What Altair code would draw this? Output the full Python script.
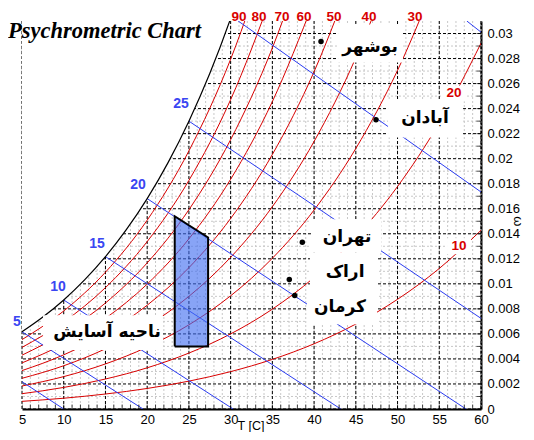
import altair as alt
import pandas as pd

# ---------------- axes / grid values ----------------
X_DOMAIN = [5, 60]
W_DOMAIN = [0, 0.031]
X_MAJOR = [5, 10, 15, 20, 25, 30, 35, 40, 45, 50, 55, 60]
X_MINOR = [5, 6, 7, 8, 9, 10, 11, 12, 13, 14, 15, 16, 17, 18, 19, 20, 21, 22, 23, 24, 25, 26, 27, 28, 29, 30,
           31, 32, 33, 34, 35, 36, 37, 38, 39, 40, 41, 42, 43, 44, 45, 46, 47, 48, 49, 50, 51, 52, 53, 54, 55,
           56, 57, 58, 59, 60]
W_MAJOR = [0, 0.002, 0.004, 0.006, 0.008, 0.01, 0.012, 0.014, 0.016, 0.018, 0.02, 0.022, 0.024, 0.026, 0.028, 0.03]
W_MINOR = [0.001, 0.003, 0.005, 0.007, 0.009, 0.011, 0.013, 0.015, 0.017, 0.019, 0.021, 0.023, 0.025, 0.027, 0.029]

# ---------------- relative humidity curves (omega vs T) ----------------
T_RH = [5, 10, 15, 20, 25, 30, 35, 40, 45, 50, 55, 60]
RH10 = [0.000611, 0.000861, 0.001196, 0.001641, 0.002226, 0.002986, 0.003963, 0.005210, 0.006787, 0.008764, 0.011228, 0.014277]
RH20 = [0.001223, 0.001723, 0.002396, 0.003291, 0.004468, 0.006000, 0.007978, 0.010508, 0.013723, 0.017778, 0.022869, 0.029224]
RH30 = [0.001837, 0.002589, 0.003601, 0.004949, 0.006726, 0.009044, 0.012044, 0.015897, 0.020814, 0.027055, 0.034945]
RH40 = [0.002452, 0.003456, 0.004811, 0.006617, 0.009000, 0.012117, 0.016163, 0.021378, 0.028065, 0.036603]
RH50 = [0.003068, 0.004327, 0.006025, 0.008293, 0.011291, 0.015221, 0.020336, 0.026954, 0.035481]
RH60 = [0.003685, 0.005199, 0.007244, 0.009978, 0.013598, 0.018355, 0.024563, 0.032628]
RH70 = [0.004303, 0.006074, 0.008468, 0.011672, 0.015922, 0.021520, 0.028847, 0.038401]
RH80 = [0.004923, 0.006951, 0.009697, 0.013375, 0.018264, 0.024716, 0.033188]
RH90 = [0.005544, 0.007831, 0.010930, 0.015088, 0.020623, 0.027945, 0.037588]

T_SAT = [5, 7.5, 10, 12.5, 15, 17.5, 20, 22.5, 25, 27.5, 30, 32.5]
W_SAT = [0.006166, 0.007345, 0.008714, 0.010311, 0.012168, 0.014327, 0.016810, 0.019685, 0.022999, 0.026798, 0.031206, 0.036244]

# ---------------- wet-bulb lines (start / end points) ----------------
WB_NAMES = ["0", "5", "10", "15", "20", "25", "30", "35"]
WB_T1 = [5, 5, 10, 15, 20, 25, 30.9, 58.3]
WB_W1 = [0.00218, 0.00617, 0.00871, 0.01217, 0.01681, 0.02300, 0.031, 0.031]
WB_T2 = [10.0, 19.5, 30.3, 43.2, 58.2, 60, 60, 60]
WB_W2 = [0, 0, 0, 0, 0, 0.00724, 0.01734, 0.03011]

# ---------------- labels ----------------
RH_LABELS = ["90", "80", "70", "60", "50", "40", "30", "20", "10"]
RH_LAB_T = [31.0, 33.4, 36.16, 38.79, 42.39, 46.58, 52.09, 56.77, 57.37]
RH_LAB_W = [0.03128, 0.03128, 0.03128, 0.03128, 0.03128, 0.03128, 0.03128, 0.02521, 0.01301]

WB_LABELS = ["25", "20", "15", "10", "5"]
WB_LAB_T = [24.05, 18.90, 13.99, 9.31, 4.40]
WB_LAB_W = [0.02434, 0.01787, 0.01317, 0.00973, 0.00694]

CITY_NAMES = ["بوشهر", "آبادان", "تهران", "اراک", "کرمان"]
CITY_T = [40.83, 47.42, 38.59, 37.03, 37.68]
CITY_W = [0.02936, 0.02311, 0.01332, 0.01035, 0.00907]

TEXTS = ["بوشهر", "آبادان", "تهران", "اراک", "کرمان", "ناحیه آسایش"]
TEXT_T = [46.70, 53.29, 43.95, 43.71, 43.11, 15.19]
TEXT_W = [0.02891, 0.02322, 0.01372, 0.01093, 0.00814, 0.00614]

BOX_T1 = [42.87, 48.86, 39.63, 39.51, 39.15, 7.52, 55.33, 55.93]
BOX_T2 = [50.66, 57.85, 48.02, 47.66, 47.54, 21.90, 58.21, 58.80]
BOX_W1 = [0.02769, 0.02170, 0.01253, 0.00950, 0.00678, 0.00471, 0.02458, 0.01237]
BOX_W2 = [0.03072, 0.02466, 0.01516, 0.01253, 0.00965, 0.00750, 0.02585, 0.01364]

COMFORT_T = [23.3, 27.3]
COMFORT_TOP = [0.0154, 0.0137]
COMFORT_BOTTOM = [0.005, 0.005]

TITLE = "Psychrometric Chart"
TITLE_T = [3.32]
TITLE_W = [0.03024]

AXIS_TITLES = ["T [C]", "ω"]
AXIS_TITLE_T = [32.44, 64.43]
AXIS_TITLE_W = [-0.001356, 0.0150]
AXIS_TITLE_ANGLE = [0, 90]
AXIS_TITLE_SIZE = [12.5, 13]

# ---------------- frames ----------------
rh_df = pd.concat([
    pd.DataFrame({"T": T_RH[:len(v)], "w": v, "id": n})
    for n, v in [("10", RH10), ("20", RH20), ("30", RH30), ("40", RH40), ("50", RH50),
                 ("60", RH60), ("70", RH70), ("80", RH80), ("90", RH90)]
])
sat_df = pd.DataFrame({"T": T_SAT, "w": W_SAT, "w2": W_DOMAIN[1]})
wb_df = pd.concat([
    pd.DataFrame({"T": [WB_T1[i], WB_T2[i]], "w": [WB_W1[i], WB_W2[i]], "id": WB_NAMES[i]})
    for i in range(len(WB_NAMES))
])
vgrid_minor = pd.DataFrame({"T": X_MINOR})
vgrid_major = pd.DataFrame({"T": X_MAJOR})
hgrid_minor = pd.DataFrame({"w": W_MINOR})
hgrid_major = pd.DataFrame({"w": W_MAJOR})
xticks_df = pd.DataFrame({"T": X_MINOR, "w": 0})
yticks_df = pd.DataFrame({"T": 60, "w": W_MAJOR + W_MINOR})
comfort_df = pd.DataFrame({"T": COMFORT_T, "w": COMFORT_TOP, "w2": COMFORT_BOTTOM})
outline_df = pd.DataFrame({
    "T": [COMFORT_T[0], COMFORT_T[0], COMFORT_T[1], COMFORT_T[1], COMFORT_T[0]],
    "w": [COMFORT_BOTTOM[0], COMFORT_TOP[0], COMFORT_TOP[1], COMFORT_BOTTOM[1], COMFORT_BOTTOM[0]],
    "o": [0, 1, 2, 3, 4],
})
box_df = pd.DataFrame({"T": BOX_T1, "T2": BOX_T2, "w": BOX_W1, "w2": BOX_W2})
city_df = pd.DataFrame({"T": CITY_T, "w": CITY_W, "name": CITY_NAMES})
text_df = pd.DataFrame({"T": TEXT_T, "w": TEXT_W, "label": TEXTS})
rhlab_df = pd.DataFrame({"T": RH_LAB_T, "w": RH_LAB_W, "label": RH_LABELS})
wblab_df = pd.DataFrame({"T": WB_LAB_T, "w": WB_LAB_W, "label": WB_LABELS})
title_df = pd.DataFrame({"T": TITLE_T, "w": TITLE_W, "label": [TITLE]})
axt_df = pd.DataFrame({"T": AXIS_TITLE_T, "w": AXIS_TITLE_W, "label": AXIS_TITLES,
                       "a": AXIS_TITLE_ANGLE, "s": AXIS_TITLE_SIZE})

# ---------------- scales / axes ----------------
xs = alt.Scale(domain=X_DOMAIN, nice=False, zero=False)
ys = alt.Scale(domain=W_DOMAIN, nice=False, zero=False)
xaxis = alt.Axis(values=X_MAJOR, orient="bottom", title="", grid=False, ticks=False,
                 domainColor="black", domainWidth=2, labelFont="Liberation Sans", labelFontSize=13,
                 labelColor="black", labelPadding=4, labelFlush=False, labelOverlap=False)
yaxis = alt.Axis(values=W_MAJOR, orient="right", title="", format="~g", grid=False, ticks=False,
                 domainColor="black", domainWidth=2, labelFont="Liberation Sans", labelFontSize=13,
                 labelColor="black", labelPadding=6, labelOverlap=False, labelFlush=False)

X = alt.X("T:Q", scale=xs, axis=xaxis)
Y = alt.Y("w:Q", scale=ys, axis=yaxis)

RED = "#d80000"
BLUE = "#2b3cf0"

layers = [
    alt.Chart(vgrid_minor).mark_rule(color="#c8c8c8", strokeWidth=1, strokeDash=[2, 2]).encode(x=X),
    alt.Chart(hgrid_minor).mark_rule(color="#c8c8c8", strokeWidth=1, strokeDash=[2, 2]).encode(y=Y),
    alt.Chart(vgrid_major).mark_rule(color="black", strokeWidth=1, strokeDash=[3, 2]).encode(x=X),
    alt.Chart(hgrid_major).mark_rule(color="black", strokeWidth=1, strokeDash=[3, 2]).encode(y=Y),
    alt.Chart(sat_df).mark_area(color="white", opacity=1, interpolate="monotone", clip=True).encode(
        x=X, y=Y, y2=alt.Y2("w2:Q")),
    alt.Chart(rh_df).mark_line(color=RED, strokeWidth=1, interpolate="monotone", clip=True).encode(
        x=X, y=Y, detail="id:N"),
    alt.Chart(wb_df).mark_line(color=BLUE, strokeWidth=1, clip=True).encode(x=X, y=Y, detail="id:N"),
    alt.Chart(sat_df).mark_line(color="black", strokeWidth=1.2, interpolate="monotone", clip=True).encode(
        x=X, y=Y),
    alt.Chart(comfort_df).mark_area(color="#3f6cf0", opacity=0.62).encode(x=X, y=Y, y2=alt.Y2("w2:Q")),
    alt.Chart(outline_df).mark_line(color="black", strokeWidth=2).encode(x=X, y=Y, order="o:Q"),
    alt.Chart(box_df).mark_rect(color="white", opacity=1).encode(
        x=X, x2=alt.X2("T2:Q"), y=Y, y2=alt.Y2("w2:Q")),
    alt.Chart(city_df).mark_circle(color="black", size=30, opacity=1).encode(x=X, y=Y),
    alt.Chart(text_df).mark_text(font="DejaVu Sans", fontSize=17, fontWeight="bold", color="black",
                                 align="center", baseline="middle").encode(x=X, y=Y, text="label:N"),
    alt.Chart(rhlab_df).mark_text(font="Liberation Sans", fontSize=13.5, fontWeight="bold", color=RED,
                                  align="center", baseline="middle").encode(x=X, y=Y, text="label:N"),
    alt.Chart(wblab_df).mark_text(font="Liberation Sans", fontSize=14, fontWeight="bold", color="#3a46f2",
                                  align="center", baseline="middle").encode(x=X, y=Y, text="label:N"),
    alt.Chart(title_df).mark_text(font="Liberation Serif", fontSize=22.5, fontWeight="bold",
                                  fontStyle="italic", color="black", align="left",
                                  baseline="middle").encode(x=X, y=Y, text="label:N"),
    alt.Chart(axt_df).mark_text(font="Liberation Sans", color="black",
                                align="center", baseline="middle").encode(
        x=X, y=Y, text="label:N", angle=alt.Angle("a:Q", scale=None),
        size=alt.Size("s:Q", scale=None, legend=None)),
    alt.Chart(xticks_df).mark_tick(color="black", orient="vertical", size=9, thickness=1, clip=True).encode(
        x=X, y=Y),
    alt.Chart(yticks_df).mark_tick(color="black", orient="horizontal", size=9, thickness=1, clip=True).encode(
        x=X, y=Y),
]

chart = alt.layer(*layers).properties(
    width=459, height=388,
    autosize=alt.AutoSizeParams(type="none"),
    padding={"left": 14, "top": 13, "right": 45, "bottom": 23},
).configure_view(stroke=None)

chart.save("out.html", embed_options={"renderer": "svg", "actions": False})
